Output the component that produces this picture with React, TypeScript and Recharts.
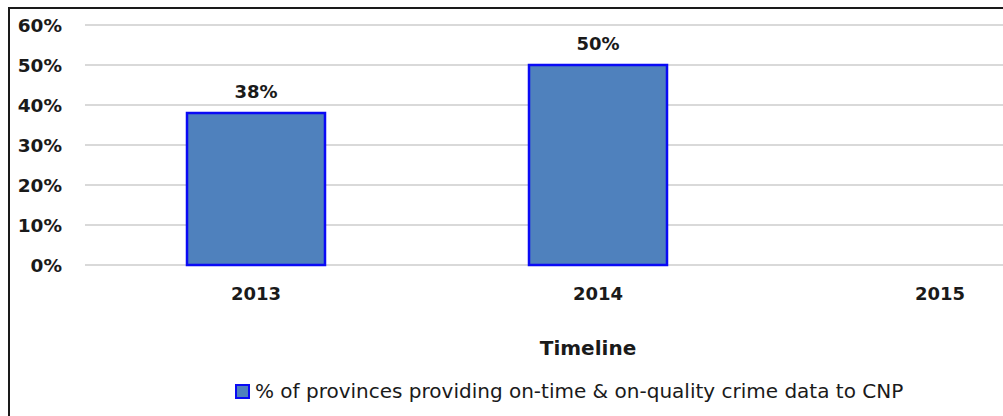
import { Bar, BarChart, CartesianGrid, LabelList, Legend, XAxis, YAxis } from "recharts"

const years = ["2013", "2014", "2015"]
const shares: (number | null)[] = [38, 50, null]
const yTicks = [0, 10, 20, 30, 40, 50, 60]
const seriesName = "% of provinces providing on-time & on-quality crime data to CNP"

const data = years.map((year, i) => ({ year, share: shares[i] }))

const font = "'DejaVu Sans', sans-serif"
const ink = "#1a1a1a"
const barFill = "#4f81bd"
const barEdge = "#0a0af5"

function LegendRow() {
  return (
    <div
      style={{
        display: "flex",
        alignItems: "center",
        height: 28,
        fontFamily: font,
        fontSize: 20,
        color: ink,
        whiteSpace: "nowrap",
      }}
    >
      <span
        style={{
          display: "inline-block",
          width: 11,
          height: 11,
          background: barFill,
          border: `2px solid ${barEdge}`,
          marginRight: 5,
        }}
      />
      {seriesName}
    </div>
  )
}

export default function App() {
  return (
    <div
      style={{
        position: "absolute",
        left: 0,
        top: 0,
        width: 1003,
        height: 416,
        overflow: "hidden",
        background: "#fff",
      }}
    >
      <div style={{ position: "absolute", left: 0, top: 0 }}>
        <BarChart
          width={1111}
          height={393}
          data={data}
          margin={{ top: 25, right: 0, bottom: 0, left: 0 }}
          style={{ fontFamily: font }}
        >
          <CartesianGrid vertical={false} stroke="#d9d9d9" strokeWidth={2} />
          <XAxis
            dataKey="year"
            axisLine={false}
            tickLine={false}
            tickMargin={16}
            height={100}
            tick={{ fill: ink, fontSize: 18, fontWeight: "bold" }}
            label={{
              value: "Timeline",
              position: "insideBottom",
              offset: 10,
              dx: -10,
              fill: ink,
              fontSize: 20,
              fontWeight: "bold",
            }}
          />
          <YAxis
            width={85}
            domain={[0, 60]}
            ticks={yTicks}
            axisLine={false}
            tickLine={false}
            tickMargin={17}
            tickFormatter={(v: number) => `${v}%`}
            tick={{ fill: ink, fontSize: 18.5, fontWeight: "bold" }}
          />
          <Legend
            verticalAlign="bottom"
            content={() => <LegendRow />}
            wrapperStyle={{ left: 235, top: 377, width: "auto" }}
          />
          <Bar
            dataKey="share"
            name={seriesName}
            fill={barFill}
            stroke={barEdge}
            strokeWidth={2.5}
            barSize={138}
            isAnimationActive={false}
          >
            <LabelList
              dataKey="share"
              position="top"
              offset={15}
              formatter={(v: unknown) => (v == null ? "" : `${v}%`)}
              style={{ fill: ink, fontSize: 18, fontWeight: "bold" }}
            />
          </Bar>
        </BarChart>
      </div>
      <div
        style={{
          position: "absolute",
          left: 8,
          top: 7,
          width: 1200,
          height: 600,
          border: `2px solid ${ink}`,
          pointerEvents: "none",
        }}
      />
    </div>
  )
}
